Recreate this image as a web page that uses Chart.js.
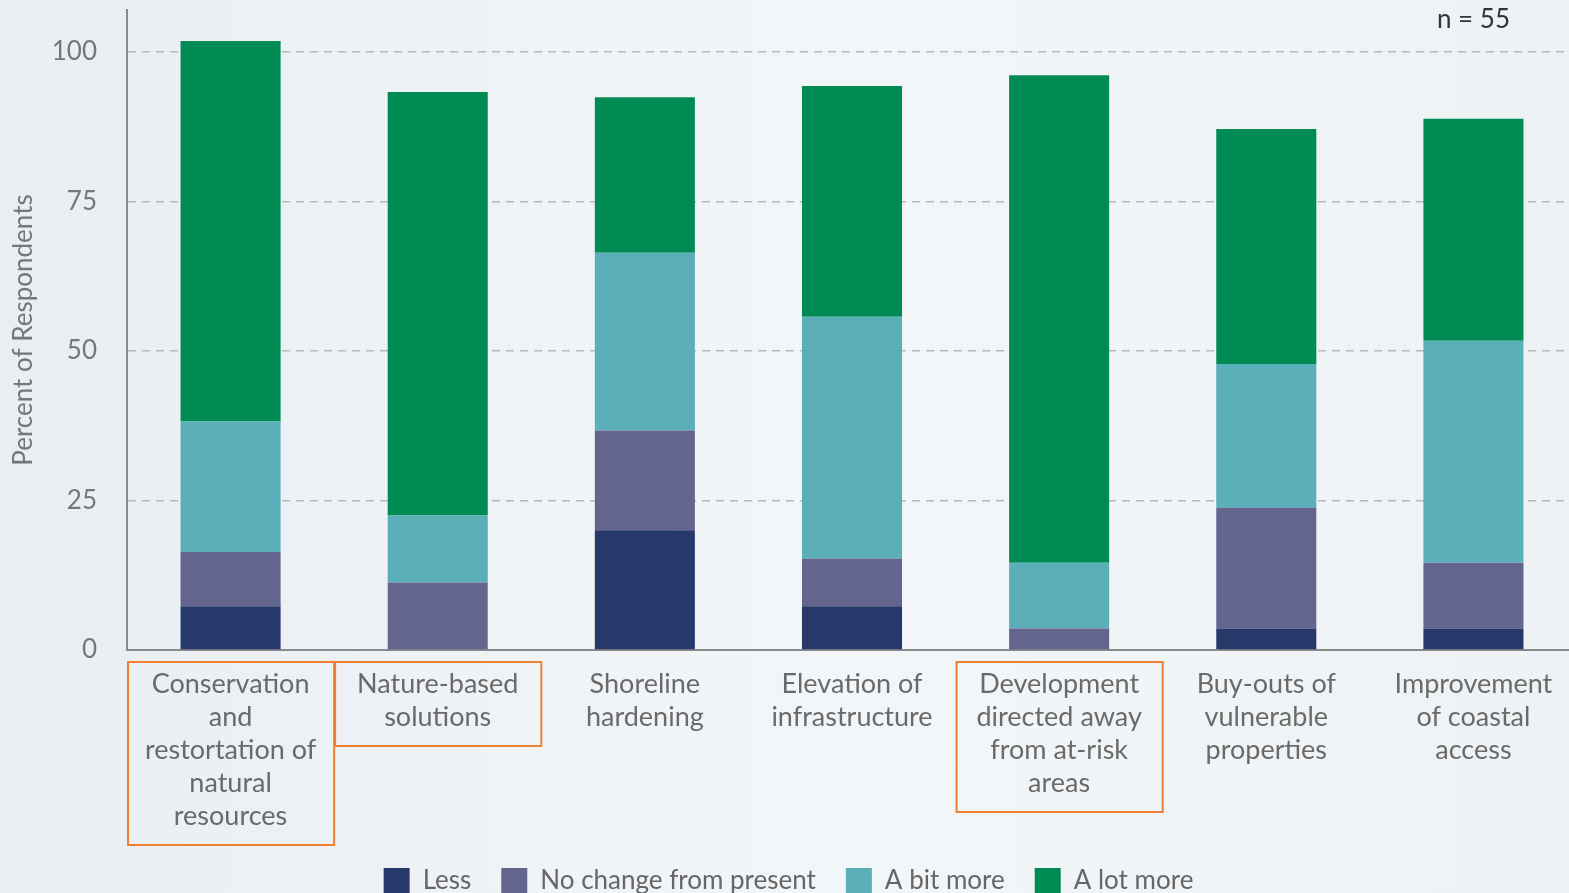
<!DOCTYPE html>
<html>
<head>
<meta charset="utf-8">
<script src="https://cdn.jsdelivr.net/npm/chart.js@4/dist/chart.umd.min.js"></script>
<style>
    html, body { margin: 0; padding: 0; overflow: hidden; }
    body { background: linear-gradient(90deg, #e9eef2 0%, #f3f6f9 55%, #eef2f5 100%); width: 1569px; height: 893px; }
    #wrap { width: 1580px; height: 893px; }
</style>
</head>
<body>
<div id="wrap"><canvas id="chart" width="1580" height="893"></canvas></div>
<script>
// categories (multi-line labels)
const categories = [
    ['Conservation', 'and', 'restortation of', 'natural', 'resources'],
    ['Nature-based', 'solutions'],
    ['Shoreline', 'hardening'],
    ['Elevation of', 'infrastructure'],
    ['Development', 'directed away', 'from at-risk', 'areas'],
    ['Buy-outs of', 'vulnerable', 'properties'],
    ['Improvement', 'of coastal', 'access']
];
const highlighted = [0, 1, 4];

// percent of respondents
const less = [7.3, 0, 20.0, 7.3, 0, 3.6, 3.6];
const noChange = [9.1, 11.3, 16.7, 8.0, 3.6, 20.2, 11.0];
const bitMore = [21.8, 11.2, 29.7, 40.4, 11.0, 24.0, 37.1];
const lotMore = [63.6, 70.8, 26.0, 38.6, 81.5, 39.3, 37.1];

const yTicks = [0, 25, 50, 75, 100];
const sampleNote = 'n = 55';

const fontFamily = 'Lato, "Open Sans", sans-serif';

// orange boxes round some of the category labels + the n note
const extras = {
    id: 'extras',
    afterLayout(chart) {
        // let the x labels draw below the scale box, and nudge the legend down
        chart.scales.x.bottom = chart.height;
        const lg = chart.legend;
        if (lg) {
            lg.top += 11;
            lg.bottom += 11;
        }
    },
    afterDraw(chart) {
        const ctx = chart.ctx;
        const x = chart.scales.x;
        const area = chart.chartArea;
        const catW = x.width / categories.length;
        ctx.save();
        ctx.strokeStyle = '#ee7f35';
        ctx.lineWidth = 2;
        highlighted.forEach(i => {
            const cx = x.getPixelForValue(i);
            const lines = categories[i].length;
            const top = area.bottom + 12;
            const h = lines * 33 + 18;
            ctx.strokeRect(cx - catW / 2 + 1, top, catW - 1, h);
        });
        ctx.fillStyle = '#333';
        ctx.font = '26px ' + fontFamily;
        ctx.textAlign = 'center';
        ctx.textBaseline = 'middle';
        ctx.fillText(sampleNote, x.getPixelForValue(categories.length - 1), 20);
        ctx.restore();
    }
};

const ctx = document.getElementById('chart').getContext('2d');
new Chart(ctx, {
    type: 'bar',
    data: {
        labels: categories,
        datasets: [
            { label: 'Less', data: less, backgroundColor: '#27386a' },
            { label: 'No change from present', data: noChange, backgroundColor: '#63658f' },
            { label: 'A bit more', data: bitMore, backgroundColor: '#5aafb9' },
            { label: 'A lot more', data: lotMore, backgroundColor: '#008b55' }
        ]
    },
    options: {
        responsive: false,
        animation: false,
        layout: { padding: { top: 10, right: 3, bottom: 0, left: 0 } },
        datasets: {
            bar: { barPercentage: 0.483, categoryPercentage: 1.0, borderWidth: 0 }
        },
        plugins: {
            legend: {
                position: 'bottom',
                labels: {
                    boxWidth: 26,
                    boxHeight: 26,
                    padding: 30,
                    color: '#666',
                    font: { family: fontFamily, size: 26 }
                }
            },
            tooltip: { enabled: false }
        },
        scales: {
            x: {
                stacked: true,
                grid: { display: false },
                border: { display: true, color: '#8a8a8a', width: 2 },
                ticks: {
                    color: '#6a6a6a',
                    padding: 10,
                    maxRotation: 0,
                    autoSkip: false,
                    font: { family: fontFamily, size: 27, lineHeight: 33 / 27 }
                },
                afterFit(scale) { scale.height = 177; }
            },
            y: {
                stacked: true,
                min: 0,
                max: 107,
                afterBuildTicks(scale) {
                    scale.ticks = yTicks.map(v => ({ value: v }));
                },
                grid: {
                    drawTicks: false,
                    color: c => (c.tick && c.tick.value === 0) ? 'rgba(0,0,0,0)' : '#b8b8b8',
                    lineWidth: 1.5
                },
                border: { display: true, color: '#8a8a8a', width: 2, dash: [8, 6] },
                ticks: {
                    color: '#777',
                    padding: 30,
                    font: { family: fontFamily, size: 26 }
                },
                title: {
                    display: true,
                    text: 'Percent of Respondents',
                    color: '#777',
                    padding: { top: 8, bottom: 0 },
                    font: { family: fontFamily, size: 26 }
                },
                afterFit(scale) {
                    scale.width = 127;
                    scale.paddingTop = 0;
                    scale.paddingBottom = 0;
                }
            }
        }
    },
    plugins: [extras]
});
</script>
</body>
</html>
